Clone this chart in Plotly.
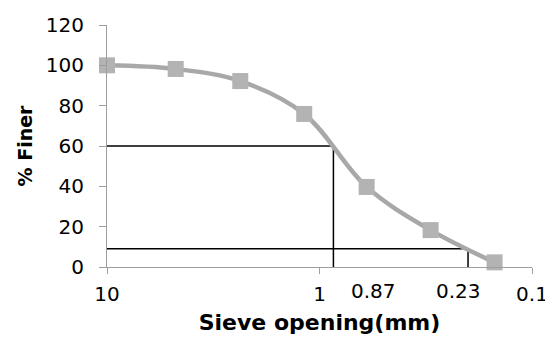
import numpy as np
import plotly.graph_objects as go

# Data
sieve_mm = [10, 4.75, 2.36, 1.18, 0.6, 0.3, 0.15]
percent_finer = [100, 98.2, 92.2, 75.9, 39.7, 18.3, 2.3]

d60_value = 0.86
d60_percent = 60
d10_value = 0.2
d10_percent = 9

x_tick_vals = [10, 1, 0.1]
x_tick_text = ["10", "1", "0.1"]
y_tick_vals = [0, 20, 40, 60, 80, 100, 120]

extra_labels = ["0.87", "0.23"]

AXIS_GRAY = "#9e9e9e"
TICK_FONT = dict(family="DejaVu Sans", size=20, color="#000000")

fig = go.Figure()

# Reference lines (D60 / D10)
for dval, pval in [(d60_value, d60_percent), (d10_value, d10_percent)]:
    fig.add_trace(go.Scatter(
        x=[sieve_mm[0], dval, dval], y=[pval, pval, 0],
        mode="lines", line=dict(color="#000000", width=1.5),
        hoverinfo="skip", showlegend=False,
    ))

fig.add_trace(go.Scatter(
    x=sieve_mm, y=percent_finer,
    mode="lines+markers",
    line=dict(color="#a8a8a8", width=4.5, shape="spline", smoothing=1),
    marker=dict(symbol="square", size=16, color="#b3b3b3"),
    showlegend=False, cliponaxis=False,
))

# The page body has an 8px margin, so the figure is offset by 8px.
fig.update_layout(
    width=545, height=332,
    margin=dict(l=99, r=21, t=17, b=73),
    paper_bgcolor="white", plot_bgcolor="white",
    showlegend=False,
)

fig.update_xaxes(
    type="log", range=[np.log10(10), np.log10(0.1)],
    tickvals=x_tick_vals, ticktext=x_tick_text,
    ticks="outside", ticklen=6, tickcolor=AXIS_GRAY, tickwidth=1,
    ticklabelstandoff=3,
    showline=True, linecolor=AXIS_GRAY, linewidth=1,
    showgrid=False, zeroline=False, automargin=False,
    tickfont=TICK_FONT,
    title=dict(text="<b>Sieve opening(mm)</b>",
               font=dict(family="DejaVu Sans", size=22, color="#000000"),
               standoff=9),
)

fig.update_yaxes(
    range=[0, 120], tickvals=y_tick_vals,
    ticks="outside", ticklen=7, tickcolor=AXIS_GRAY, tickwidth=1,
    ticklabelstandoff=11,
    showline=True, linecolor=AXIS_GRAY, linewidth=1,
    showgrid=False, zeroline=False, automargin=False,
    tickfont=TICK_FONT,
    title=dict(text="<b>% Finer</b>",
               font=dict(family="DejaVu Sans", size=19, color="#000000"),
               standoff=8),
)

# Manually placed labels below the axis
for txt, xp in zip(extra_labels, [0.626, 0.826]):
    fig.add_annotation(
        text=txt, xref="paper", yref="paper", x=xp, y=0,
        yshift=-24, showarrow=False, font=TICK_FONT,
        xanchor="center", yanchor="middle",
    )

fig.write_html("out.html")
